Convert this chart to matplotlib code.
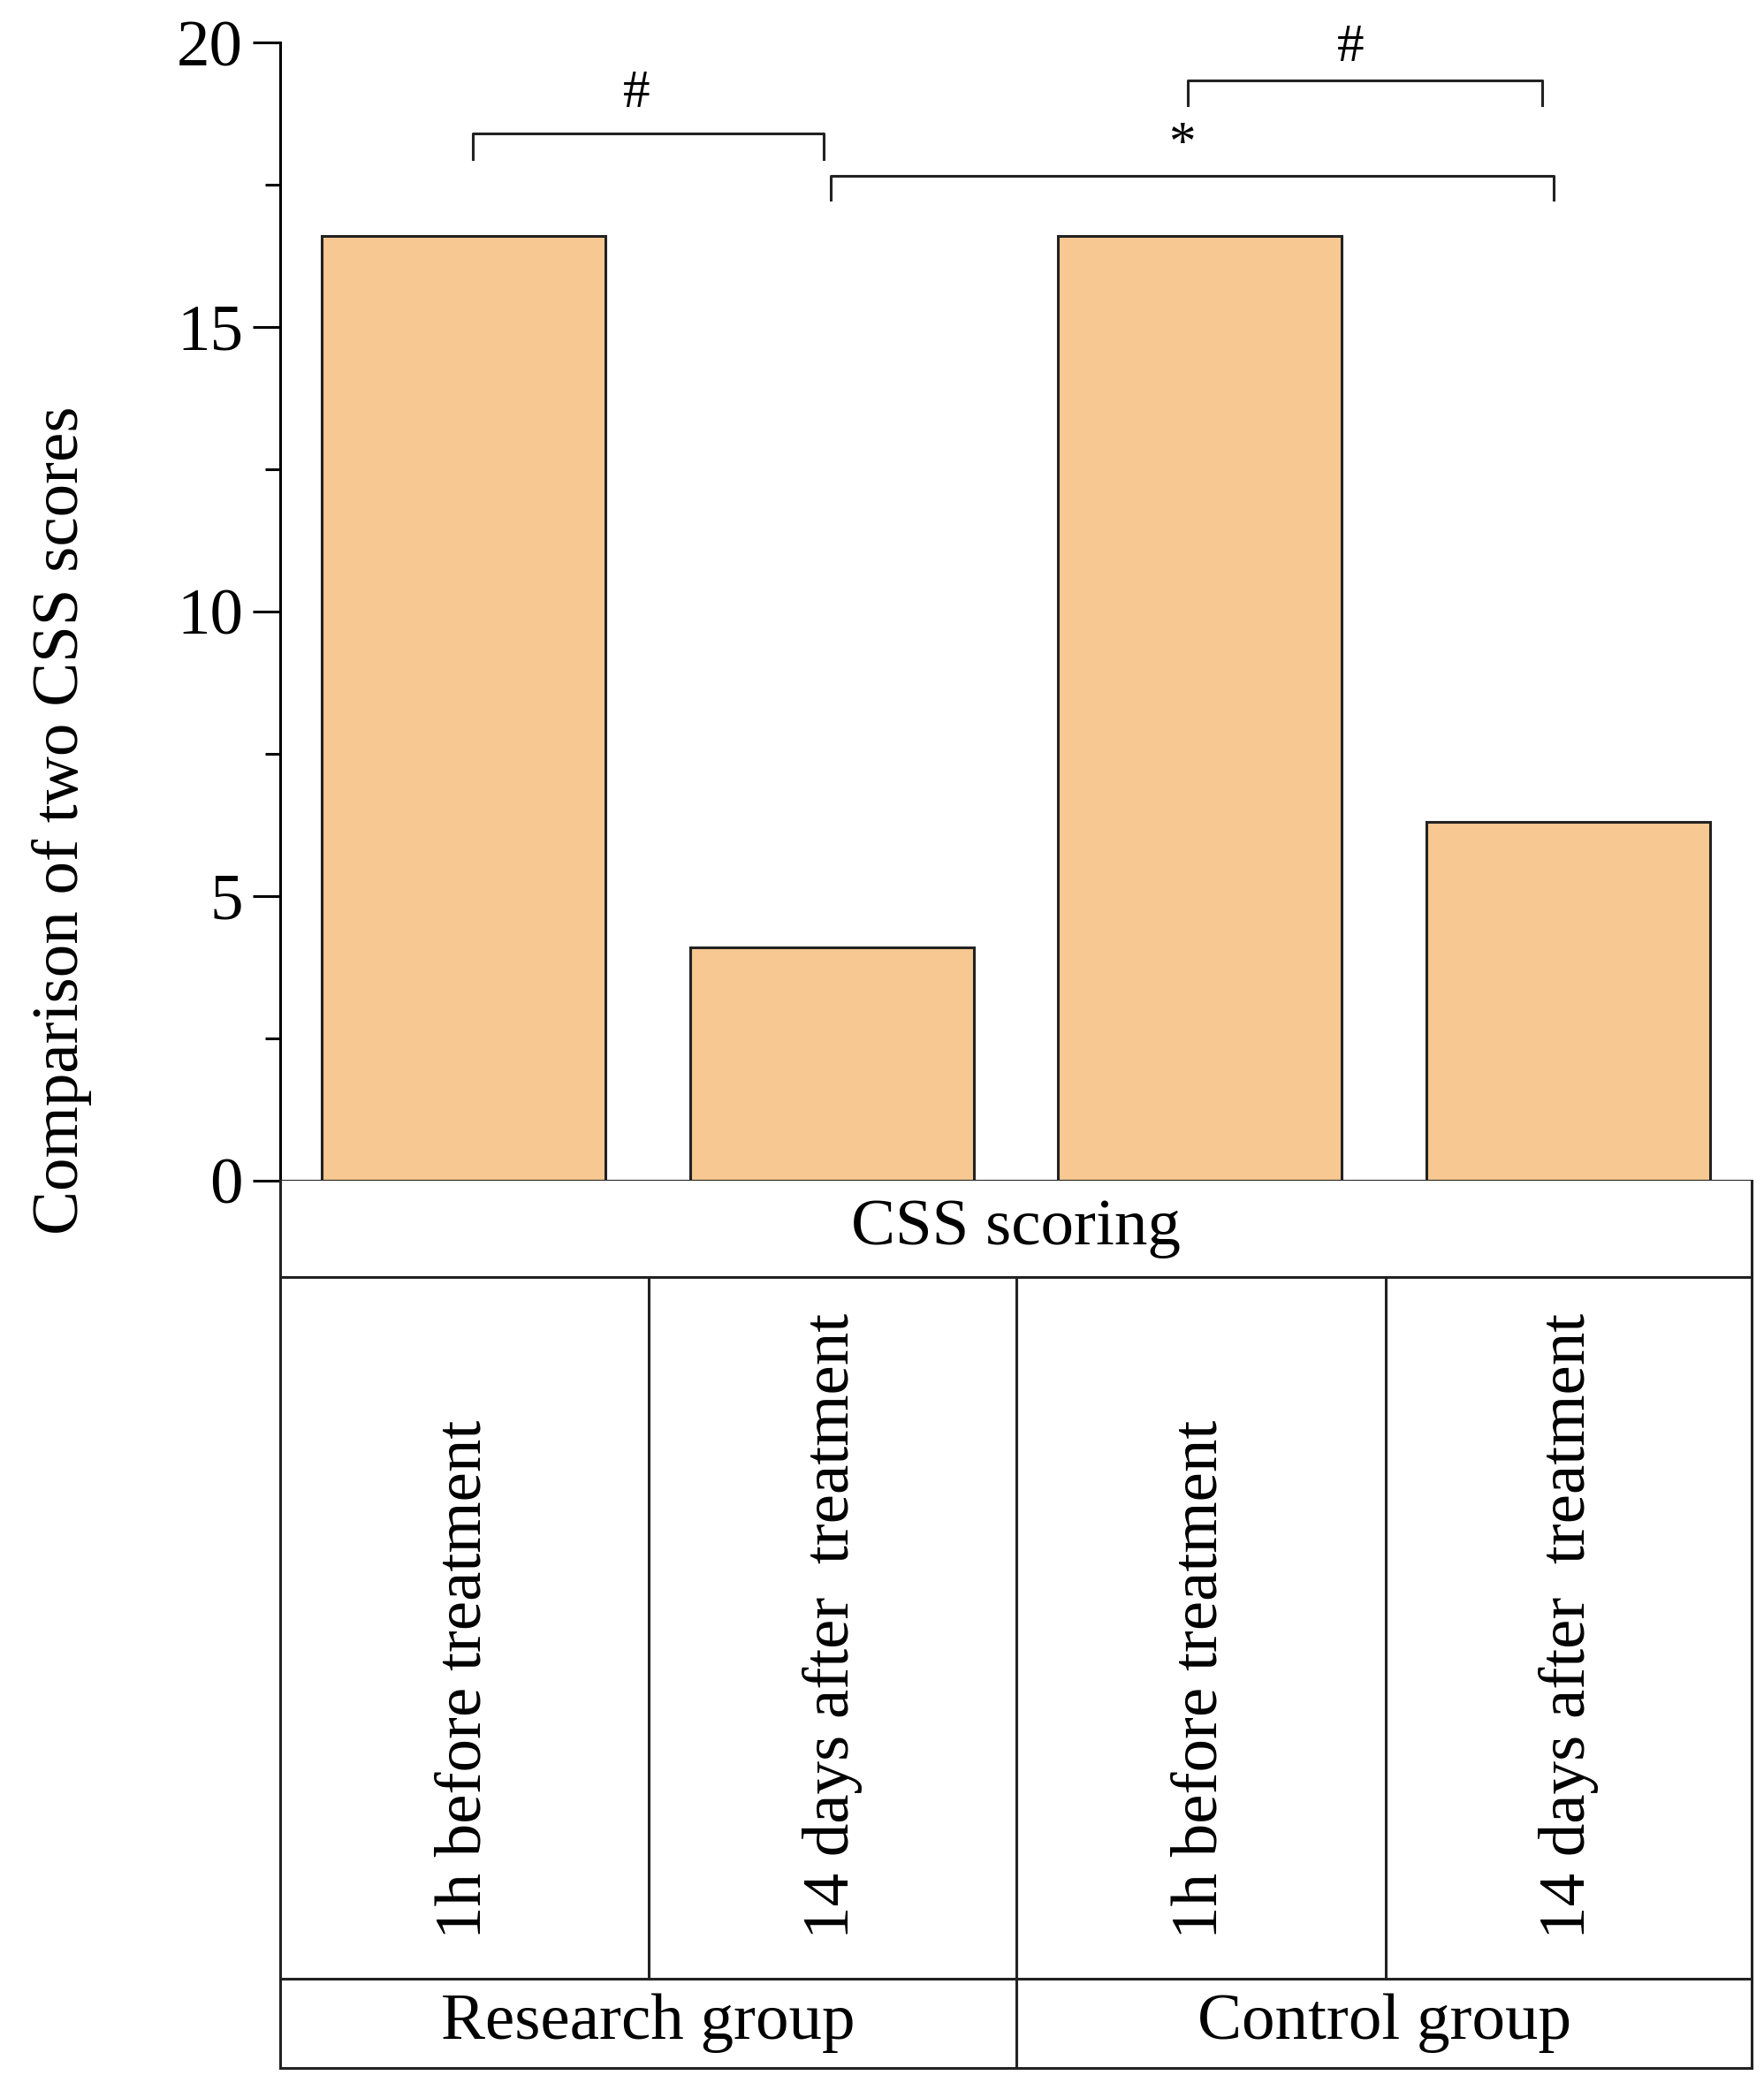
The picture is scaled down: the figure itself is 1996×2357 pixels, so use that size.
import matplotlib
matplotlib.use("Agg")
import matplotlib.pyplot as plt
from matplotlib.ticker import MultipleLocator

plt.rcParams["font.family"] = "Liberation Serif"

bar_labels = ["1h before treatment", "14 days after  treatment",
              "1h before treatment", "14 days after  treatment"]
groups = ["Research group", "Control group"]
values = [16.6, 4.1, 16.6, 6.3]
row_title = "CSS scoring"
ylabel = "Comparison of two CSS scores"

W, H = 1324, 1563
fig = plt.figure(figsize=(19.96, 23.57), dpi=100)
L, R, T0, B0 = 210, 1315, 32, 886
ax = fig.add_axes([L/W, 1-B0/H, (R-L)/W, (B0-T0)/H])
fs = 54
lw = 2.2
pos = list(range(len(values)))
ax.bar(pos, values, width=0.77, color="#F8C892", edgecolor="#222222", linewidth=lw)
ax.set_xlim(-0.5, 3.5)
ax.set_ylim(0, 20)
ax.yaxis.set_major_locator(MultipleLocator(5))
ax.yaxis.set_minor_locator(MultipleLocator(2.5))
ax.tick_params(axis="y", which="major", length=22, width=lw, labelsize=fs, pad=8)
ax.tick_params(axis="y", which="minor", length=12, width=lw)
ax.set_xticks([])
for s in ["top", "right", "bottom"]:
    ax.spines[s].set_visible(False)
ax.spines["left"].set_linewidth(lw)
ax.axhline(0, color="#222222", lw=lw)

def bracket(x1, x2, y, yl1, yl2, sym, xs, ys):
    ax.plot([x1, x1, x2, x2], [yl1, y, y, yl2], color="#222222", lw=lw, clip_on=False)
    ax.text(xs, ys, sym, ha="center", va="center", fontsize=44, clip_on=False)

bracket(0.025, 0.978, 18.4, 17.95, 17.95, "#", 0.47, 19.1)
bracket(0.996, 2.96, 17.66, 17.24, 17.24, "*", 1.95, 18.2)
bracket(1.967, 2.93, 19.34, 18.9, 18.9, "#", 2.41, 19.9)

fig.text(0.018, (1-B0/H + 1-T0/H)/2 - 0.1, ylabel, rotation=90, fontsize=fs, ha="left", va="center")

# table
tb = fig.add_axes([L/W, 1-1552/H, (R-L)/W, (1552-B0)/H])
tb.set_xlim(L, R); tb.set_ylim(1552, B0); tb.axis("off")
k = dict(color="#222222", lw=lw, clip_on=False)
tb.plot([L, L], [B0, 1552], **k); tb.plot([R, R], [B0, 1552], **k)
for y in [958, 1485, 1552]:
    tb.plot([L, R], [y, y], **k)
edges = [210, 487, 763, 1040, 1315]
for x in edges[1:-1]:
    tb.plot([x, x], [958, 1485] if x != 763 else [958, 1552], **k)
tb.text((L+R)/2, 922, row_title, ha="center", va="center", fontsize=fs)
for i, lab in enumerate(bar_labels):
    tb.text((edges[i]+edges[i+1])/2, 1455, lab, rotation=90, ha="center", va="bottom", fontsize=fs)
tb.text((210+763)/2, 1518, groups[0], ha="center", va="center", fontsize=fs)
tb.text((763+1315)/2, 1518, groups[1], ha="center", va="center", fontsize=fs)

fig.savefig("out.png", dpi=100)
